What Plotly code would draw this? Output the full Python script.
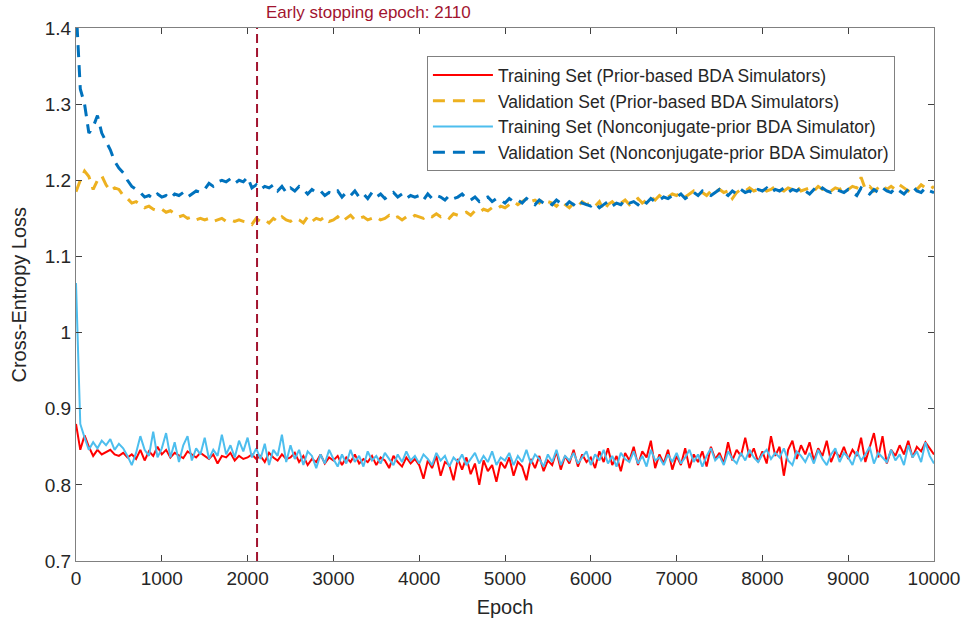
import plotly.graph_objects as go

epochs = list(range(0, 10001, 50))

train_prior = [
    0.880, 0.846, 0.865, 0.850, 0.838, 0.846, 0.840, 0.843, 0.846, 0.840,
    0.838, 0.842, 0.836, 0.840, 0.834, 0.846, 0.832, 0.844, 0.838, 0.850,
    0.840, 0.846, 0.836, 0.842, 0.838, 0.835, 0.844, 0.840, 0.836, 0.842,
    0.838, 0.834, 0.840, 0.828, 0.838, 0.836, 0.842, 0.832, 0.838, 0.834,
    0.836, 0.840, 0.834, 0.838, 0.830, 0.842, 0.836, 0.832, 0.840, 0.834,
    0.836, 0.842, 0.830, 0.838, 0.826, 0.834, 0.830, 0.840, 0.828, 0.836,
    0.832, 0.838, 0.826, 0.836, 0.830, 0.840, 0.828, 0.834, 0.830, 0.838,
    0.826, 0.836, 0.832, 0.822, 0.838, 0.830, 0.824, 0.836, 0.828, 0.834,
    0.826, 0.808, 0.832, 0.822, 0.838, 0.812, 0.830, 0.826, 0.806, 0.834,
    0.820, 0.836, 0.814, 0.828, 0.800, 0.832, 0.818, 0.826, 0.804, 0.830,
    0.822, 0.836, 0.812, 0.830, 0.824, 0.806, 0.834, 0.822, 0.838, 0.818,
    0.832, 0.826, 0.844, 0.820, 0.838, 0.828, 0.846, 0.824, 0.840, 0.830,
    0.836, 0.822, 0.844, 0.830, 0.848, 0.826, 0.838, 0.818, 0.842, 0.832,
    0.850, 0.826, 0.844, 0.836, 0.858, 0.822, 0.840, 0.828, 0.846, 0.820,
    0.838, 0.826, 0.848, 0.822, 0.840, 0.830, 0.844, 0.824, 0.850, 0.834,
    0.842, 0.828, 0.856, 0.832, 0.846, 0.838, 0.862, 0.836, 0.848, 0.830,
    0.844, 0.828, 0.864, 0.838, 0.850, 0.812, 0.846, 0.858, 0.834, 0.852,
    0.840, 0.856, 0.832, 0.848, 0.838, 0.858, 0.830, 0.844, 0.836, 0.850,
    0.834, 0.846, 0.838, 0.862, 0.830, 0.848, 0.868, 0.836, 0.864, 0.828,
    0.846, 0.838, 0.852, 0.840, 0.858, 0.836, 0.850, 0.844, 0.856, 0.848,
    0.840,
]

val_prior = [
    1.185, 1.200, 1.212, 1.205, 1.188, 1.200, 1.206, 1.194, 1.186, 1.190,
    1.188, 1.180, 1.176, 1.170, 1.172, 1.168, 1.164, 1.166, 1.162, 1.160,
    1.162, 1.158, 1.160, 1.156, 1.152, 1.154, 1.150, 1.152, 1.148, 1.150,
    1.148, 1.150, 1.146, 1.148, 1.150, 1.146, 1.148, 1.146, 1.148, 1.146,
    1.145, 1.142, 1.150, 1.146, 1.148, 1.144, 1.150, 1.146, 1.152, 1.148,
    1.146, 1.150, 1.148, 1.144, 1.152, 1.146, 1.150, 1.148, 1.152, 1.146,
    1.148, 1.152, 1.146, 1.150, 1.154, 1.148, 1.150, 1.152, 1.148, 1.150,
    1.152, 1.148, 1.150, 1.154, 1.150, 1.152, 1.148, 1.152, 1.150, 1.154,
    1.152, 1.150, 1.154, 1.152, 1.156, 1.152, 1.154, 1.150, 1.156, 1.154,
    1.156, 1.158, 1.154, 1.160, 1.158, 1.162, 1.160, 1.164, 1.162, 1.166,
    1.164, 1.168, 1.172, 1.168, 1.172, 1.176, 1.172, 1.174, 1.170, 1.176,
    1.172, 1.170, 1.166, 1.172, 1.168, 1.164, 1.170, 1.166, 1.172, 1.168,
    1.170, 1.166, 1.172, 1.160, 1.168, 1.172, 1.166, 1.170, 1.174, 1.168,
    1.172, 1.176, 1.170, 1.174, 1.178, 1.174, 1.180, 1.176, 1.178, 1.182,
    1.180, 1.184, 1.178, 1.182, 1.186, 1.182, 1.184, 1.180, 1.186, 1.184,
    1.188, 1.184, 1.186, 1.176, 1.184, 1.188, 1.186, 1.190, 1.186, 1.188,
    1.190, 1.186, 1.188, 1.192, 1.188, 1.186, 1.190, 1.188, 1.192, 1.186,
    1.188, 1.190, 1.186, 1.192, 1.188, 1.190, 1.186, 1.190, 1.188, 1.192,
    1.188, 1.192, 1.190, 1.204, 1.188, 1.192, 1.186, 1.190, 1.194, 1.188,
    1.192, 1.188, 1.194, 1.190, 1.186, 1.192, 1.188, 1.194, 1.190, 1.188,
    1.192,
]

train_nonconj = [
    1.065, 0.880, 0.862, 0.846, 0.856, 0.848, 0.858, 0.852, 0.860, 0.846,
    0.854, 0.848, 0.838, 0.826, 0.842, 0.864, 0.846, 0.838, 0.870, 0.836,
    0.848, 0.868, 0.836, 0.856, 0.830, 0.852, 0.864, 0.832, 0.848, 0.840,
    0.862, 0.834, 0.846, 0.838, 0.866, 0.840, 0.852, 0.836, 0.858, 0.844,
    0.862, 0.836, 0.848, 0.834, 0.854, 0.826, 0.846, 0.838, 0.866, 0.830,
    0.852, 0.834, 0.846, 0.826, 0.844, 0.838, 0.822, 0.840, 0.828, 0.846,
    0.834, 0.824, 0.840, 0.828, 0.846, 0.830, 0.838, 0.824, 0.844, 0.832,
    0.838, 0.828, 0.842, 0.834, 0.826, 0.840, 0.830, 0.844, 0.832, 0.838,
    0.828, 0.840, 0.834, 0.826, 0.842, 0.832, 0.838, 0.824, 0.836, 0.830,
    0.840, 0.826, 0.834, 0.842, 0.828, 0.838, 0.830, 0.844, 0.826, 0.836,
    0.832, 0.842, 0.826, 0.838, 0.830, 0.846, 0.828, 0.840, 0.834, 0.824,
    0.840, 0.830, 0.846, 0.826, 0.838, 0.832, 0.842, 0.828, 0.836, 0.844,
    0.826, 0.840, 0.832, 0.846, 0.828, 0.838, 0.824, 0.842, 0.834, 0.830,
    0.844, 0.828, 0.838, 0.824, 0.846, 0.832, 0.836, 0.826, 0.840, 0.830,
    0.842, 0.828, 0.836, 0.846, 0.830, 0.840, 0.824, 0.838, 0.848, 0.832,
    0.838, 0.826, 0.844, 0.834, 0.828, 0.842, 0.832, 0.846, 0.836, 0.830,
    0.840, 0.846, 0.834, 0.842, 0.836, 0.848, 0.832, 0.826, 0.844, 0.838,
    0.830, 0.842, 0.828, 0.846, 0.834, 0.826, 0.840, 0.848, 0.830, 0.842,
    0.836, 0.826, 0.844, 0.832, 0.840, 0.850, 0.828, 0.842, 0.836, 0.830,
    0.846, 0.832, 0.840, 0.826, 0.852, 0.836, 0.844, 0.830, 0.856, 0.838,
    0.828,
]

val_nonconj = [
    1.430, 1.320, 1.300, 1.262, 1.270, 1.285, 1.262, 1.250, 1.240, 1.225,
    1.216, 1.210, 1.200, 1.192, 1.188, 1.184, 1.178, 1.180, 1.176, 1.182,
    1.178, 1.180, 1.176, 1.182, 1.180, 1.184, 1.178, 1.182, 1.186, 1.184,
    1.188, 1.196, 1.192, 1.198, 1.200, 1.198, 1.202, 1.196, 1.200, 1.198,
    1.204, 1.190, 1.194, 1.188, 1.192, 1.190, 1.194, 1.186, 1.192, 1.184,
    1.190, 1.186, 1.192, 1.188, 1.182, 1.188, 1.184, 1.186, 1.180, 1.184,
    1.182, 1.186, 1.178, 1.184, 1.180, 1.186, 1.178, 1.182, 1.176, 1.184,
    1.178, 1.182, 1.176, 1.180, 1.184, 1.178, 1.182, 1.176, 1.180, 1.178,
    1.180, 1.174, 1.182, 1.176, 1.180, 1.178, 1.174, 1.180, 1.176, 1.178,
    1.182, 1.176, 1.174, 1.178, 1.172, 1.176, 1.178, 1.172, 1.176, 1.174,
    1.170, 1.176, 1.172, 1.174, 1.170, 1.176, 1.172, 1.168, 1.174, 1.170,
    1.172, 1.168, 1.174, 1.170, 1.166, 1.172, 1.168, 1.174, 1.170, 1.168,
    1.166, 1.170, 1.164, 1.168, 1.172, 1.166, 1.170, 1.168, 1.174, 1.170,
    1.172, 1.168, 1.174, 1.170, 1.176, 1.172, 1.174, 1.178, 1.176, 1.180,
    1.178, 1.182, 1.176, 1.180, 1.184, 1.180, 1.186, 1.182, 1.180, 1.184,
    1.188, 1.184, 1.180, 1.186, 1.182, 1.188, 1.184, 1.186, 1.182, 1.188,
    1.186, 1.190, 1.184, 1.188, 1.186, 1.190, 1.184, 1.188, 1.186, 1.190,
    1.186, 1.182, 1.188, 1.184, 1.190, 1.186, 1.184, 1.188, 1.186, 1.184,
    1.188, 1.184, 1.180, 1.190, 1.186, 1.182, 1.188, 1.184, 1.190, 1.186,
    1.184, 1.190, 1.186, 1.182, 1.188, 1.192, 1.186, 1.184, 1.190, 1.186,
    1.184,
]

early_stop_epoch = 2110
y_ticks = [0.7, 0.8, 0.9, 1.0, 1.1, 1.2, 1.3, 1.4]
y_tick_text = ["0.7", "0.8", "0.9", "1", "1.1", "1.2", "1.3", "1.4"]
x_ticks = [0, 1000, 2000, 3000, 4000, 5000, 6000, 7000, 8000, 9000, 10000]
x_tick_text = ["0", "1000", "2000", "3000", "4000", "5000", "6000", "7000", "8000", "9000", "10000"]

names = [
    "Training Set (Prior-based BDA Simulators)",
    "Validation Set (Prior-based BDA Simulators)",
    "Training Set (Nonconjugate-prior BDA Simulator)",
    "Validation Set (Nonconjugate-prior BDA Simulator)",
]

FONT = "Liberation Sans, Arial, Helvetica, sans-serif"
TXT = "#262626"

fig = go.Figure()
fig.add_trace(go.Scatter(x=epochs, y=train_prior, mode="lines", name=names[0],
                         line=dict(color="#ff0000", width=2)))
fig.add_trace(go.Scatter(x=epochs, y=val_prior, mode="lines", name=names[1],
                         line=dict(color="#EDB120", width=3, dash="12px,8px")))
fig.add_trace(go.Scatter(x=epochs, y=train_nonconj, mode="lines", name=names[2],
                         line=dict(color="#4DBEEE", width=2)))
fig.add_trace(go.Scatter(x=epochs, y=val_nonconj, mode="lines", name=names[3],
                         line=dict(color="#0072BD", width=3, dash="12px,8px")))

fig.add_shape(type="line", x0=early_stop_epoch, x1=early_stop_epoch, y0=0, y1=1,
              xref="x", yref="paper",
              line=dict(color="#A2142F", width=2, dash="9px,5px"))
fig.add_annotation(x=early_stop_epoch, y=1, xref="x", yref="paper",
                   text="Early stopping epoch: 2110", showarrow=False,
                   xanchor="left", yanchor="bottom", xshift=7, yshift=4,
                   font=dict(family=FONT, size=17, color="#A2142F"))
fig.add_annotation(x=0, y=0.5, xref="paper", yref="paper",
                   text="Cross-Entropy Loss", showarrow=False, textangle=-90,
                   xanchor="center", yanchor="middle", xshift=-58,
                   font=dict(family=FONT, size=20, color=TXT))

axis_common = dict(
    showgrid=False, zeroline=False, showline=True, linecolor="#808080",
    linewidth=1, mirror="ticks", ticks="inside", ticklen=6, tickcolor="#404040",
    tickfont=dict(family=FONT, size=19, color=TXT),
)

fig.update_layout(
    width=963, height=620,
    margin=dict(l=76, r=29, t=28, b=59, autoexpand=False),
    paper_bgcolor="white", plot_bgcolor="white",
    font=dict(family=FONT, color=TXT),
    xaxis=dict(range=[0, 10000], tickvals=x_ticks, ticktext=x_tick_text,
               title=dict(text="Epoch", font=dict(family=FONT, size=20, color=TXT), standoff=12),
               **axis_common),
    yaxis=dict(range=[0.7, 1.4], tickvals=y_ticks, ticktext=y_tick_text,
               **axis_common),
    legend=dict(x=0.409, y=0.947, xanchor="left", yanchor="top",
                bgcolor="white", bordercolor="#808080", borderwidth=1,
                font=dict(family=FONT, size=17.5, color=TXT),
                itemwidth=60, tracegroupgap=0),
    showlegend=True,
)

# remove the browser's default 8px body margin so the figure fills the window exactly
fig.write_html("out.html", config={"displayModeBar": False},
               post_script="document.body.style.margin='0px';")
